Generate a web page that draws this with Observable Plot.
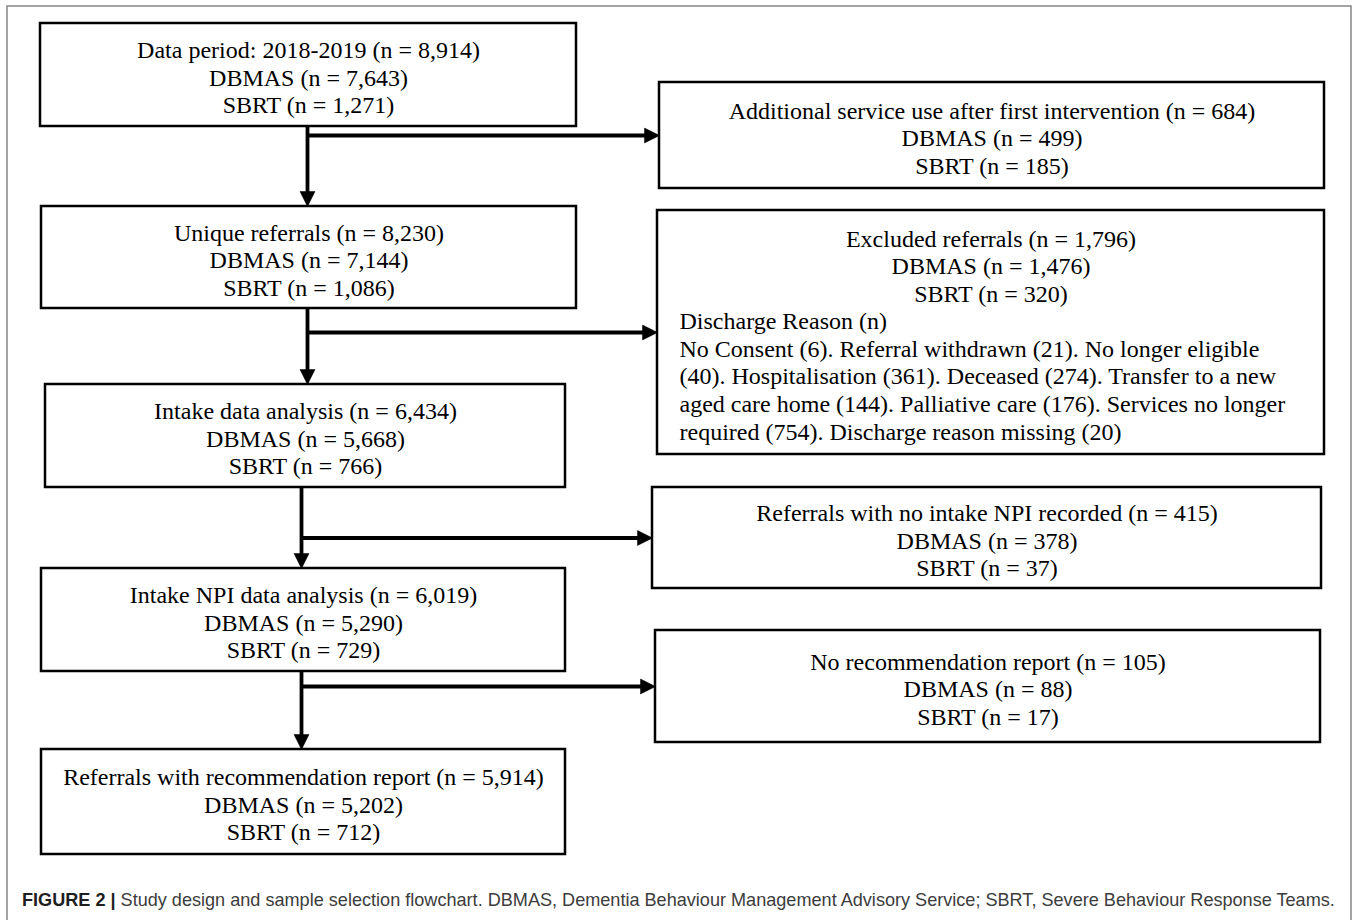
<!DOCTYPE html>
<html><head><meta charset="utf-8">
<script src="https://cdn.jsdelivr.net/npm/d3@7"></script>
<script src="https://cdn.jsdelivr.net/npm/@observablehq/plot@0.6"></script>
<style>
html,body{margin:0;padding:0;background:#fff;}
#chart{position:relative;width:1357px;height:920px;overflow:hidden;}
#chart figure{margin:0;position:relative;max-width:none;}
#chart figcaption{position:absolute;left:22px;top:890px;font-family:"Liberation Sans",Arial,sans-serif;font-size:18.1px;line-height:21px;color:#3c3c3c;white-space:nowrap;}
#chart figcaption b{color:#1e1e1e;}
</style></head><body><div id="chart"></div>
<script>
// ---------------- data ----------------
const stageLabels = ["Data period: 2018-2019", "Unique referrals", "Intake data analysis", "Intake NPI data analysis", "Referrals with recommendation report"];
const stageTotal = [8914, 8230, 6434, 6019, 5914];
const stageDBMAS = [7643, 7144, 5668, 5290, 5202];
const stageSBRT  = [1271, 1086, 766, 729, 712];

const exitLabels = ["Additional service use after first intervention", "Excluded referrals", "Referrals with no intake NPI recorded", "No recommendation report"];
const exitTotal = [684, 1796, 415, 105];
const exitDBMAS = [499, 1476, 378, 88];
const exitSBRT  = [185, 320, 37, 17];

const dischargeTitle = "Discharge Reason (n)";
const dischargeReasons = ["No Consent", "Referral withdrawn", "No longer eligible", "Hospitalisation", "Deceased", "Transfer to a new aged care home", "Palliative care", "Services no longer required", "Discharge reason missing"];
const dischargeCounts = [6, 21, 40, 361, 274, 144, 176, 754, 20];

const captionLead = "FIGURE 2 |";
const captionText = "Study design and sample selection flowchart. DBMAS, Dementia Behaviour Management Advisory Service; SBRT, Severe Behaviour Response Teams.";

// ---------------- layout ----------------
const W = 1357, H = 920;
const stageBoxes = [
  {x1: 40, x2: 576, y1: 23,  y2: 126},
  {x1: 41, x2: 576, y1: 206, y2: 308},
  {x1: 45, x2: 565, y1: 384, y2: 487},
  {x1: 41, x2: 565, y1: 568, y2: 671},
  {x1: 41, x2: 565, y1: 749, y2: 854}
];
const exitBoxes = [
  {x1: 659, x2: 1324, y1: 82,  y2: 188},
  {x1: 657, x2: 1324, y1: 210, y2: 454},
  {x1: 652, x2: 1321, y1: 487, y2: 588},
  {x1: 655, x2: 1320, y1: 630, y2: 742}
];
const trunkX = [307, 307, 301, 301];
const outerFrame = {x1: 7, x2: 1351, y1: 6, y2: 940};
const headLen = 15, headHalf = 7.5;
const fontSize = 24, lineH = 1.15;
const serif = "'Liberation Serif', 'Times New Roman', serif";

// ---------------- derived ----------------
const fmt = d3.format(",");
const block = (label, t, a, b) => `${label} (n = ${fmt(t)})\nDBMAS (n = ${fmt(a)})\nSBRT (n = ${fmt(b)})`;

function wrap(text, font, maxW) {
  const ctx = document.createElement("canvas").getContext("2d");
  ctx.font = font;
  const words = text.split(" ");
  const lines = [];
  let cur = "";
  for (const w of words) {
    const t = cur ? cur + " " + w : w;
    if (cur && ctx.measureText(t).width > maxW) { lines.push(cur); cur = w; }
    else cur = t;
  }
  if (cur) lines.push(cur);
  return lines;
}
const reasonText = dischargeReasons.map((r, i) => `${r} (${dischargeCounts[i]})`).join(". ");
const paragraph = [dischargeTitle, ...wrap(reasonText, `${fontSize}px 'Liberation Serif'`, 622)].join("\n");

const stages = stageLabels.map((l, i) => ({...stageBoxes[i], text: block(l, stageTotal[i], stageDBMAS[i], stageSBRT[i])}));
const exits = exitLabels.map((l, i) => ({...exitBoxes[i], text: block(l, exitTotal[i], exitDBMAS[i], exitSBRT[i])}));

const segments = [];
const heads = [];
trunkX.forEach((x, i) => {
  const a = stageBoxes[i], b = stageBoxes[i + 1], e = exitBoxes[i];
  const by = (e.y1 + e.y2) / 2;
  segments.push({x1: x, y1: a.y2, x2: x, y2: b.y1 - headLen + 1});
  segments.push({x1: x, y1: by, x2: e.x1 - headLen + 1, y2: by});
  const tipD = b.y1;
  heads.push({id: `d${i}`, x: x, y: tipD}, {id: `d${i}`, x: x - headHalf, y: tipD - headLen}, {id: `d${i}`, x: x + headHalf, y: tipD - headLen}, {id: `d${i}`, x: x, y: tipD});
  const tipR = e.x1;
  heads.push({id: `r${i}`, x: tipR, y: by}, {id: `r${i}`, x: tipR - headLen, y: by - headHalf}, {id: `r${i}`, x: tipR - headLen, y: by + headHalf}, {id: `r${i}`, x: tipR, y: by});
});

const cap = document.createElement("span");
const capB = document.createElement("b");
capB.textContent = captionLead;
cap.append(capB, " " + captionText);

const textOpts = {fontSize, fontFamily: serif, lineHeight: lineH, fill: "black", lineAnchor: "middle"};

const chart = Plot.plot({
  width: W, height: H,
  margin: 0,
  x: {domain: [0, W], range: [0, W], axis: null},
  y: {domain: [0, H], range: [0, H], axis: null},
  style: {background: "white"},
  caption: cap,
  marks: [
    Plot.rect([outerFrame], {x1: "x1", x2: "x2", y1: "y1", y2: "y2", fill: "none", stroke: "#8c8c8c", strokeWidth: 1.6}),
    Plot.link(segments, {x1: "x1", y1: "y1", x2: "x2", y2: "y2", stroke: "black", strokeWidth: 3.8, strokeLinecap: "butt"}),
    Plot.line(heads, {x: "x", y: "y", z: "id", fill: "black", stroke: "black", strokeWidth: 0.5, curve: "linear"}),
    Plot.rect(stages, {x1: "x1", x2: "x2", y1: "y1", y2: "y2", fill: "white", stroke: "black", strokeWidth: 2.5}),
    Plot.rect(exits, {x1: "x1", x2: "x2", y1: "y1", y2: "y2", fill: "white", stroke: "black", strokeWidth: 2.5}),
    Plot.text(stages, {...textOpts, x: d => (d.x1 + d.x2) / 2, y: d => (d.y1 + d.y2) / 2 + 2, text: "text", textAnchor: "middle"}),
    Plot.text(exits.filter((d, i) => i !== 1), {...textOpts, x: d => (d.x1 + d.x2) / 2, y: d => (d.y1 + d.y2) / 2 + 2, text: "text", textAnchor: "middle"}),
    Plot.text([exits[1]], {...textOpts, x: d => (d.x1 + d.x2) / 2, y: d => d.y1 + 55, text: "text", textAnchor: "middle"}),
    Plot.text([exits[1]], {...textOpts, x: d => d.x1 + 22, y: d => d.y1 + 165, text: () => paragraph, textAnchor: "start"})
  ]
});
document.getElementById("chart").append(chart);
</script>
</body></html>
